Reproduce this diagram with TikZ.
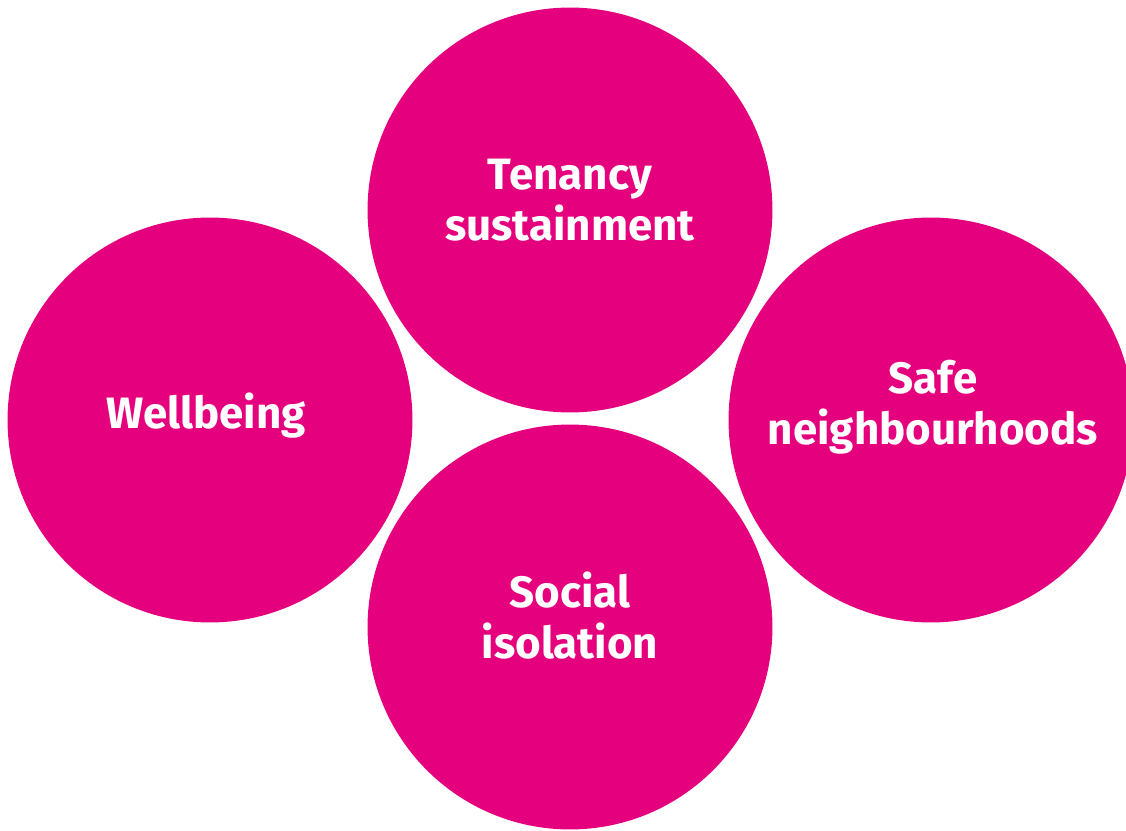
\documentclass[tikz,border=0pt]{standalone}
\usepackage{fontspec}
\setmainfont{Fira Sans}
\definecolor{ringpink}{HTML}{E5007E}

\begin{document}
\begin{tikzpicture}[x=0.02cm,y=-0.02cm]
\tikzset{theme/.style={circle,fill=ringpink,draw=none,minimum size=8.1cm,inner sep=0pt},
  caption/.style={text=white,font=\bfseries\fontsize{25}{29}\selectfont,align=center}}
            % Frame
\useasboundingbox (0,0) rectangle (1126,831);
            % Circles
\node[theme] (tenancy)   at (570,210) {};
\node[theme] (wellbeing) at (210,420) {};
\node[theme] (safe)      at (931,420) {};
\node[theme] (social)    at (570,627) {};
            % Texts
\node[caption] (tenancy-text)   at (570,200) {Tenancy\\sustainment};
\node[caption] (wellbeing-text) at (206,416) {Wellbeing};
\node[caption] (safe-text)      at (933,407) {Safe\\neighbourhoods};
\node[caption] (social-text)    at (570,616) {Social\\isolation};
\end{tikzpicture}
\end{document}
